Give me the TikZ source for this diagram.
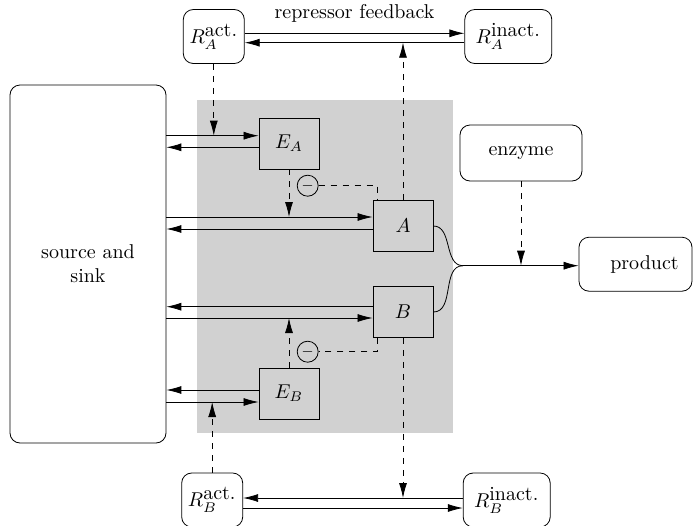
\documentclass[tikz,border=0pt]{standalone}
\usetikzlibrary{arrows.meta}
\definecolor{bggray}{gray}{0.82}
\tikzset{
	box/.style={draw, minimum width=30pt, minimum height=25.5pt, inner sep=0pt},
	rbox/.style={draw, rounded corners=5pt, minimum height=27pt, inner sep=0pt},
	neg/.style={draw, circle, minimum size=10.5pt, inner sep=0pt, font=\scriptsize},
}
\begin{document}
\begin{tikzpicture}[x=0.5pt, y=-0.5pt, >={Latex[length=7.5pt,width=4pt]}]
		\useasboundingbox (0,0) rectangle (693,526);
		\fill [bggray] (197,100) rectangle (453,432.5);
		\node [rbox, minimum width=78pt, minimum height=179pt, align=center] (src) at (88,264) {source and\\sink};
		\node [rbox, minimum width=30.5pt] (RAact) at (213.8,36.5) {$R_A^{\mbox{act.}}$};
		\node [rbox, minimum width=43.5pt] (RAinact) at (508.3,36.5) {$R_A^{\mbox{inact.}}$};
		\node [rbox, minimum width=30.5pt] (RBact) at (212.2,500) {$R_B^{\mbox{act.}}$};
		\node [rbox, minimum width=43.5pt] (RBinact) at (506.7,500) {$R_B^{\mbox{inact.}}$};
		\node [box] (EA) at (289,143.5) {$E_A$};
		\node [box] (A) at (403,226) {$A$};
		\node [box] (B) at (403,312) {$B$};
		\node [box] (EB) at (289,393.5) {$E_B$};
		\node [neg] (negA) at (307.7,185.7) {$-$};
		\node [neg] (negB) at (307.7,351.7) {$-$};
		\node [rbox, minimum width=61pt, minimum height=28pt] (enz) at (521,153) {enzyme};
		\node [rbox, minimum width=56.5pt] (prod) at (635.5,264.2) {\hspace{9pt}product};
		\coordinate (J) at (463,265.7);
		\coordinate (ra1) at (0,33.3);
		\coordinate (ra2) at (0,42.7);
		\coordinate (ea1) at (0,135.7);
		\coordinate (ea2) at (0,147.3);
		\coordinate (a1) at (0,217);
		\coordinate (a2) at (0,229);
		\coordinate (b1) at (0,306.7);
		\coordinate (b2) at (0,318);
		\coordinate (eb1) at (0,390);
		\coordinate (eb2) at (0,402);
		\coordinate (rb1) at (0,498);
		\coordinate (rb2) at (0,508);
		\draw [->] (RAact.east |- ra1) to node[above=2pt]{repressor feedback} (RAinact.west |- ra1);
		\draw [->] (RAinact.west |- ra2) -- (RAact.east |- ra2);
		\draw [->] (RBinact.west |- rb1) -- (RBact.east |- rb1);
		\draw [->] (RBact.east |- rb2) -- (RBinact.west |- rb2);
		\draw [->] (src.east |- ea1) -- (EA.west |- ea1);
		\draw [->] (EA.west |- ea2) -- (src.east |- ea2);
		\draw [->] (src.east |- a1) -- (A.west |- a1);
		\draw [->] (A.west |- a2) -- (src.east |- a2);
		\draw [->] (B.west |- b1) -- (src.east |- b1);
		\draw [->] (src.east |- b2) -- (B.west |- b2);
		\draw [->] (EB.west |- eb1) -- (src.east |- eb1);
		\draw [->] (src.east |- eb2) -- (EB.west |- eb2);
		\draw [dashed, ->] (RAact.south) -- (RAact.south |- ea1);
		\draw [dashed, ->] (EA.south) -- (EA.south |- a1);
		\draw [dashed] (negA.east) -| ([xshift=2.5pt]A.north west);
		\draw [dashed, ->] (A.north) -- (A.north |- ra2);
		\draw [dashed, ->] (B.south) -- (B.south |- rb1);
		\draw [dashed] ([xshift=2.5pt]B.south west) |- (negB.east);
		\draw [dashed, ->] (EB.north) -- (EB.north |- b2);
		\draw [dashed, ->] (RBact.north) -- (RBact.north |- eb2);
		\draw (A.east) to[out=0, in=180] (J);
		\draw (B.east) to[out=0, in=180] (J);
		\draw [->] (J) -- (prod.west |- J);
		\draw [dashed, ->] (enz.south) -- (enz.south |- J);
	\end{tikzpicture}
\end{document}
